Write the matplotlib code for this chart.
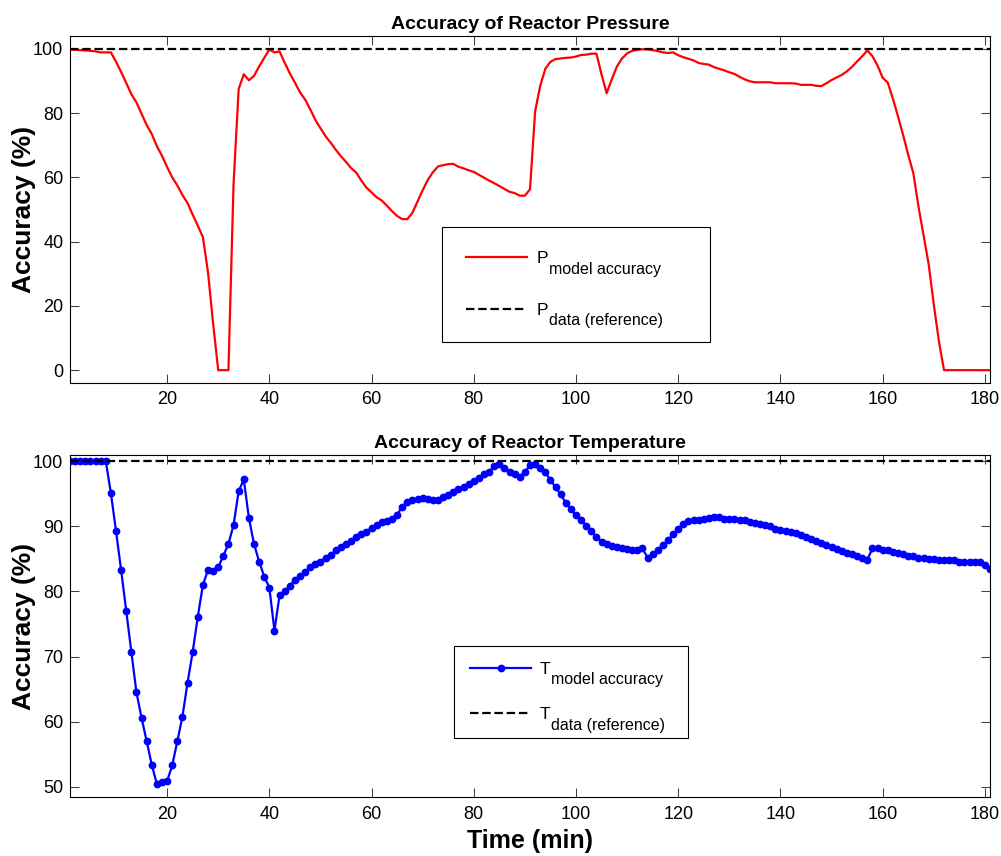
import numpy as np
import matplotlib
matplotlib.use('Agg')
from matplotlib import pyplot as plt

plt.rcParams['font.family'] = ['Liberation Sans', 'DejaVu Sans']

# reactor pressure model accuracy, one value per minute (1..181)
p_model = [99.8, 99.7, 99.6, 99.5, 99.4, 99.2, 98.9, 98.9, 98.9, 96.0,
           92.8, 89.4, 85.9, 83.3, 79.8, 76.3, 73.5, 69.7, 66.7, 63.2,
           60.0, 57.5, 54.5, 52.0, 48.4, 45.0, 41.4, 30.5, 14.5, 0.0,
           0.0, 0.0, 58.0, 87.5, 92.1, 90.2, 91.6, 94.5, 97.2, 99.8,
           98.9, 99.2, 95.7, 92.4, 89.5, 86.5, 84.2, 81.2, 77.9, 75.3,
           72.8, 70.8, 68.6, 66.6, 64.8, 62.9, 61.5, 59.0, 56.8, 55.3,
           53.8, 52.8, 51.2, 49.5, 48.0, 47.0, 47.0, 49.0, 52.5, 56.0,
           59.2, 61.6, 63.4, 63.8, 64.1, 64.2, 63.3, 62.8, 62.2, 61.7,
           60.8, 59.9, 59.0, 58.2, 57.3, 56.4, 55.5, 55.1, 54.3, 54.3,
           56.3, 80.5, 88.5, 93.8, 96.0, 96.8, 97.0, 97.2, 97.3, 97.6,
           98.1, 98.2, 98.5, 98.5, 92.0, 86.2, 90.5, 94.5, 97.0, 98.6,
           99.4, 99.7, 99.9, 99.8, 99.6, 99.3, 98.9, 98.7, 98.9, 98.0,
           97.4, 96.9, 96.4, 95.6, 95.3, 95.1, 94.3, 93.8, 93.3, 92.7,
           92.2, 91.3, 90.5, 89.9, 89.6, 89.6, 89.6, 89.6, 89.3, 89.3,
           89.3, 89.3, 89.2, 88.8, 88.8, 88.8, 88.5, 88.4, 89.3, 90.3,
           91.1, 91.9, 93.0, 94.4, 96.1, 97.7, 99.5, 97.7, 94.8, 91.0,
           89.5, 84.5, 79.0, 73.2, 67.0, 61.3, 51.0, 42.0, 33.0, 20.5,
           9.0, 0.0, 0.0, 0.0, 0.0, 0.0, 0.0, 0.0, 0.0, 0.0,
           0.0]

# reactor temperature model accuracy, one value per minute (1..181)
t_model = [100.0, 100.0, 100.0, 100.0, 100.0, 100.0, 100.0, 100.0, 95.1, 89.3,
           83.3, 77.0, 70.7, 64.5, 60.6, 57.0, 53.4, 50.4, 50.8, 50.9,
           53.3, 57.0, 60.8, 66.0, 70.7, 76.1, 81.0, 83.3, 83.1, 83.7,
           85.5, 87.3, 90.2, 95.4, 97.2, 91.3, 87.3, 84.6, 82.3, 80.6,
           74.0, 79.4, 80.0, 80.9, 81.8, 82.4, 83.0, 83.7, 84.2, 84.6,
           85.2, 85.6, 86.3, 86.8, 87.3, 87.8, 88.3, 88.8, 89.2, 89.8,
           90.2, 90.6, 90.8, 91.2, 91.8, 93.0, 93.7, 94.0, 94.2, 94.3,
           94.2, 94.0, 94.1, 94.5, 94.8, 95.2, 95.7, 96.0, 96.5, 97.0,
           97.5, 98.0, 98.4, 99.2, 99.6, 99.0, 98.4, 98.0, 97.6, 98.3,
           99.4, 99.6, 99.0, 98.3, 97.1, 96.0, 94.9, 93.6, 92.6, 91.7,
           91.0, 90.1, 89.3, 88.4, 87.6, 87.3, 87.0, 86.9, 86.7, 86.5,
           86.4, 86.3, 86.6, 85.2, 85.7, 86.4, 87.1, 87.9, 88.8, 89.6,
           90.4, 90.8, 90.9, 91.0, 91.1, 91.3, 91.4, 91.4, 91.2, 91.1,
           91.1, 91.0, 90.9, 90.7, 90.5, 90.4, 90.2, 90.0, 89.6, 89.4,
           89.3, 89.2, 89.0, 88.7, 88.3, 88.1, 87.8, 87.5, 87.2, 86.9,
           86.5, 86.2, 85.9, 85.7, 85.4, 85.2, 84.9, 86.6, 86.6, 86.4,
           86.3, 86.0, 85.9, 85.7, 85.5, 85.4, 85.2, 85.1, 85.0, 85.0,
           84.9, 84.9, 84.9, 84.8, 84.6, 84.6, 84.6, 84.5, 84.5, 84.0,
           83.5]

ref_level = 100.0
time = np.arange(1, len(p_model) + 1)
p_ref = [ref_level] * len(time)
t_ref = [ref_level] * len(time)

xticks = [20, 40, 60, 80, 100, 120, 140, 160, 180]
p_yticks = [0, 20, 40, 60, 80, 100]
t_yticks = [50, 60, 70, 80, 90, 100]

dash = (0, (3.8, 1.7))

fig = plt.figure(figsize=(10.01, 8.56), dpi=100)
ax1 = fig.add_axes([0.06993, 0.55257, 0.91908, 0.40537])
ax2 = fig.add_axes([0.06993, 0.06857, 0.91908, 0.40023])


def style_axes(ax):
    ax.tick_params(direction='in', top=True, right=True, length=6.5, width=0.75,
                   color='0.25', labelsize=13)
    ax.tick_params(axis='x', pad=6)
    ax.tick_params(axis='y', pad=4.8)
    for s in ax.spines.values():
        s.set_linewidth(0.8)
    ax.set_xlim(1, 181)
    ax.set_xticks(xticks)
    ax.set_ylabel('Accuracy (%)', fontsize=19, fontweight='bold')
    ax.yaxis.set_label_coords(-0.037, 0.5)


def add_subscripts(leg, subs):
    # MATLAB-style subscripts next to the legend letters
    for txt, sub in zip(leg.get_texts(), subs):
        ax = leg.axes
        ax.annotate(sub, xy=(1, 0), xycoords=txt, xytext=(0.8, -5.2),
                    textcoords='offset points', ha='left', va='baseline',
                    fontsize=11.5, zorder=6)


# ---- pressure ----
l1, = ax1.plot(time, p_model, color='red', lw=1.6)
l2, = ax1.plot(time, p_ref, color='black', lw=1.6, linestyle=dash)
style_axes(ax1)
ax1.set_ylim(-4, 104)
ax1.set_yticks(p_yticks)
ax1.set_title('Accuracy of Reactor Pressure', fontsize=14, fontweight='bold', pad=5)
leg1 = ax1.legend([l1, l2], ['P', 'P'], loc='upper left',
                  bbox_to_anchor=(0.4043, 0.449, 0.2913, 0), mode='expand',
                  borderaxespad=0, fontsize=12.5, borderpad=1.38, labelspacing=2.1,
                  handlelength=3.5, handletextpad=0.57, fancybox=False,
                  framealpha=1, edgecolor='black')
leg1.get_frame().set_linewidth(0.8)
add_subscripts(leg1, ['model accuracy', 'data (reference)'])

# ---- temperature ----
l3, = ax2.plot(time, t_model, color='blue', lw=1.6, marker='o', markersize=4.6)
l4, = ax2.plot(time, t_ref, color='black', lw=1.6, linestyle=dash)
style_axes(ax2)
ax2.set_ylim(48.4, 101)
ax2.set_yticks(t_yticks)
ax2.set_title('Accuracy of Reactor Temperature', fontsize=14, fontweight='bold', pad=5)
ax2.set_xlabel('Time (min)', fontsize=18, fontweight='bold')
ax2.xaxis.set_label_coords(0.5, -0.0925)
leg2 = ax2.legend([l3, l4], ['T', 'T'], loc='upper left',
                  bbox_to_anchor=(0.4174, 0.4416, 0.2543, 0), mode='expand',
                  borderaxespad=0, fontsize=12.5, borderpad=0.9, labelspacing=1.76,
                  handlelength=3.56, handletextpad=0.46, fancybox=False,
                  framealpha=1, edgecolor='black')
leg2.get_frame().set_linewidth(0.8)
add_subscripts(leg2, ['model accuracy', 'data (reference)'])

plt.savefig('out.png', dpi=100)
